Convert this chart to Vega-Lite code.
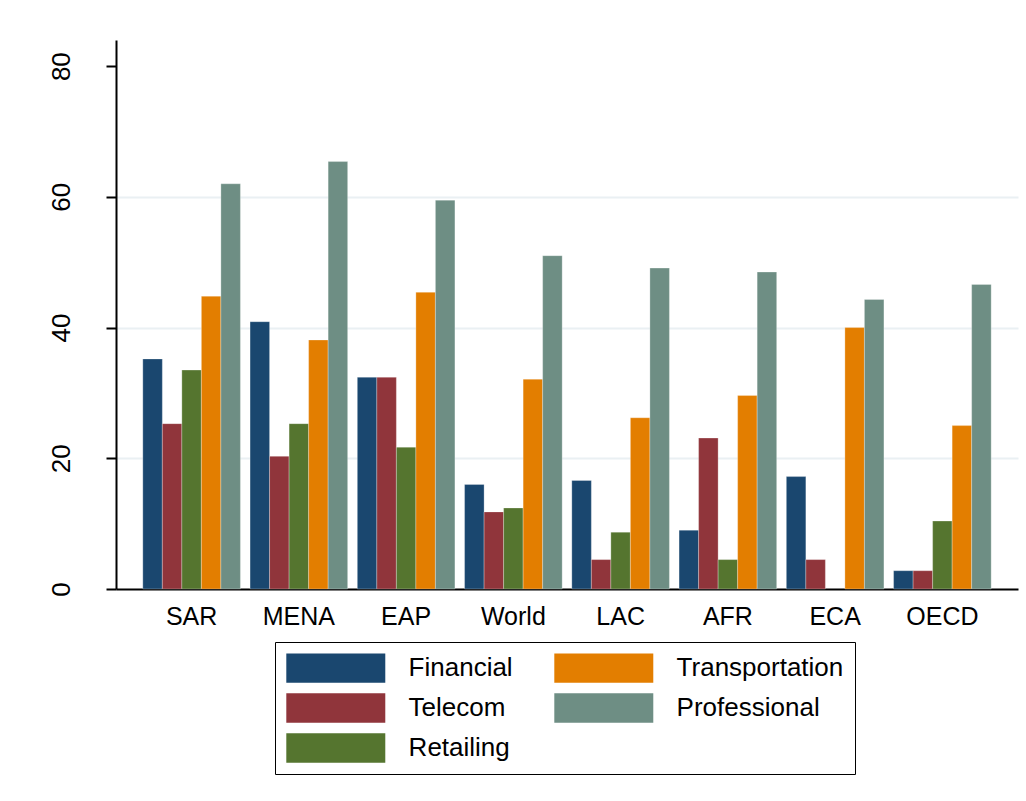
{
  "$schema": "https://vega.github.io/schema/vega-lite/v6.json",
  "autosize": {"type": "none"},
  "padding": {"left": 116, "top": 40, "right": 8, "bottom": 212},
  "width": 902,
  "height": 549,
  "background": "white",
  "config": {
    "view": {"stroke": null},
    "font": "Liberation Sans"
  },
  "data": {
    "values": [
      {"region": "SAR", "sector": "Financial", "value": 35.2},
      {"region": "SAR", "sector": "Telecom", "value": 25.3},
      {"region": "SAR", "sector": "Retailing", "value": 33.5},
      {"region": "SAR", "sector": "Transportation", "value": 44.8},
      {"region": "SAR", "sector": "Professional", "value": 62.0},
      {"region": "MENA", "sector": "Financial", "value": 40.9},
      {"region": "MENA", "sector": "Telecom", "value": 20.3},
      {"region": "MENA", "sector": "Retailing", "value": 25.3},
      {"region": "MENA", "sector": "Transportation", "value": 38.1},
      {"region": "MENA", "sector": "Professional", "value": 65.4},
      {"region": "EAP", "sector": "Financial", "value": 32.4},
      {"region": "EAP", "sector": "Telecom", "value": 32.4},
      {"region": "EAP", "sector": "Retailing", "value": 21.7},
      {"region": "EAP", "sector": "Transportation", "value": 45.4},
      {"region": "EAP", "sector": "Professional", "value": 59.5},
      {"region": "World", "sector": "Financial", "value": 16.0},
      {"region": "World", "sector": "Telecom", "value": 11.8},
      {"region": "World", "sector": "Retailing", "value": 12.4},
      {"region": "World", "sector": "Transportation", "value": 32.1},
      {"region": "World", "sector": "Professional", "value": 51.0},
      {"region": "LAC", "sector": "Financial", "value": 16.6},
      {"region": "LAC", "sector": "Telecom", "value": 4.5},
      {"region": "LAC", "sector": "Retailing", "value": 8.7},
      {"region": "LAC", "sector": "Transportation", "value": 26.2},
      {"region": "LAC", "sector": "Professional", "value": 49.1},
      {"region": "AFR", "sector": "Financial", "value": 9.0},
      {"region": "AFR", "sector": "Telecom", "value": 23.1},
      {"region": "AFR", "sector": "Retailing", "value": 4.5},
      {"region": "AFR", "sector": "Transportation", "value": 29.6},
      {"region": "AFR", "sector": "Professional", "value": 48.5},
      {"region": "ECA", "sector": "Financial", "value": 17.2},
      {"region": "ECA", "sector": "Telecom", "value": 4.5},
      {"region": "ECA", "sector": "Transportation", "value": 40.0},
      {"region": "ECA", "sector": "Professional", "value": 44.3},
      {"region": "OECD", "sector": "Financial", "value": 2.8},
      {"region": "OECD", "sector": "Telecom", "value": 2.8},
      {"region": "OECD", "sector": "Retailing", "value": 10.4},
      {"region": "OECD", "sector": "Transportation", "value": 25.0},
      {"region": "OECD", "sector": "Professional", "value": 46.6}
    ]
  },
  "mark": {"type": "bar", "stroke": "white", "strokeWidth": 0.8, "strokeOpacity": 0.35},
  "encoding": {
    "x": {
      "field": "region",
      "type": "nominal",
      "sort": ["SAR", "MENA", "EAP", "World", "LAC", "AFR", "ECA", "OECD"],
      "scale": {"paddingInner": 0.09, "paddingOuter": 0.25},
      "axis": {
        "title": null,
        "labelAngle": 0,
        "labelFontSize": 25,
        "labelColor": "black",
        "labelPadding": 15,
        "ticks": false,
        "domainColor": "black",
        "domainWidth": 2,
        "grid": false
      }
    },
    "xOffset": {
      "field": "sector",
      "type": "nominal",
      "scale": {"domain": ["Financial", "Telecom", "Retailing", "Transportation", "Professional"], "paddingInner": 0, "paddingOuter": 0}
    },
    "y": {
      "field": "value",
      "type": "quantitative",
      "scale": {"domain": [0, 84], "nice": false, "zero": true},
      "axis": {
        "title": null,
        "values": [0, 20, 40, 60, 80],
        "labelAngle": -90,
        "labelAlign": "center",
        "labelBaseline": "alphabetic",
        "labelFontSize": 26,
        "labelColor": "black",
        "labelPadding": 37,
        "tickSize": 10,
        "tickColor": "black",
        "tickWidth": 2,
        "domainColor": "black",
        "domainWidth": 2,
        "grid": true,
        "gridColor": "#eaf0f3",
        "gridWidth": 2,
        "gridOpacity": {"condition": {"test": "datum.value == 0 || datum.value == 80", "value": 0}, "value": 1}
      }
    },
    "color": {
      "field": "sector",
      "type": "nominal",
      "scale": {
        "domain": ["Financial", "Telecom", "Retailing", "Transportation", "Professional"],
        "range": ["#1a476f", "#90353b", "#55752f", "#e37e00", "#6e8e84"]
      },
      "legend": {
        "title": null,
        "orient": "none",
        "legendX": 159,
        "legendY": 602,
        "columns": 2,
        "columnPadding": 41,
        "rowPadding": 10,
        "padding": 11,
        "strokeColor": "black",
        "fillColor": "white",
        "symbolType": "M-1,-1H5.735V1H-1Z",
        "symbolSize": 864,
        "symbolStrokeWidth": 0,
        "symbolOpacity": 1,
        "labelFontSize": 26,
        "labelColor": "black",
        "labelOffset": 92.6,
        "labelLimit": 400,
        "encode": {"legend": {"update": {"strokeWidth": {"value": 1.5}}}}
      }
    }
  }
}
